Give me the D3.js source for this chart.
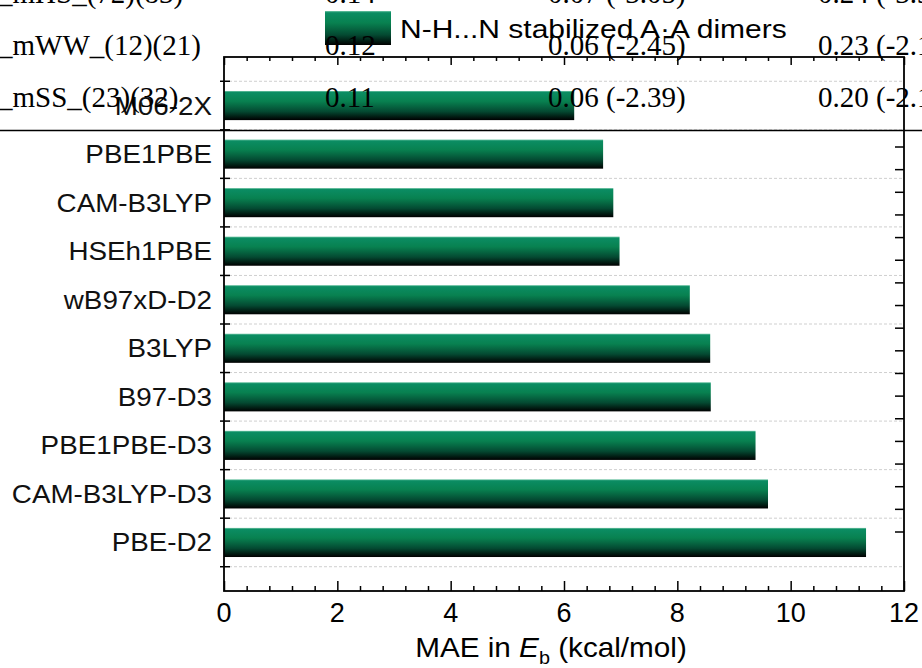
<!DOCTYPE html>
<html>
<head>
<meta charset="utf-8">
<script src="https://cdn.jsdelivr.net/npm/d3@7"></script>
<style>
  html, body { margin: 0; padding: 0; background: #fff; overflow: hidden; }
  svg { display: block; }
</style>
</head>
<body>
<svg id="chart"></svg>
<script>
const methods = ["M06-2X", "PBE1PBE", "CAM-B3LYP", "HSEh1PBE", "wB97xD-D2",
                 "B3LYP", "B97-D3", "PBE1PBE-D3", "CAM-B3LYP-D3", "PBE-D2"];
const mae = [6.18, 6.69, 6.87, 6.98, 8.22, 8.58, 8.59, 9.38, 9.60, 11.33];
const xTicks = [0, 2, 4, 6, 8, 10, 12];
const legendLabel = "N-H...N stabilized A\u00B7A dimers";

// table fragment that sits over the top of the figure
const tableNames = ["_mHS_(72)(83)", "_mWW_(12)(21)", "_mSS_(23)(32)"];
const tableCol1 = ["0.14", "0.12", "0.11"];
const tableCol2 = ["0.07 (-3.05)", "0.06 (-2.45)", "0.06 (-2.39)"];
const tableCol3 = ["0.24 (-3.3", "0.23 (-2.1", "0.20 (-2.1"];

const width = 922, height = 668;
const plotL = 224, plotR = 904, plotT = 57, plotB = 591;

const svg = d3.select("#chart")
  .attr("width", width)
  .attr("height", height);

const x = d3.scaleLinear().domain([0, 12]).range([plotL, plotR]);
const y = d3.scaleLinear().domain([0, methods.length + 1]).range([plotT, plotB]);
// right axis has its own spacing
const yRight = d3.scaleLinear().domain([0, 17]).range([147, 532]);

// gradient for the bars
const defs = svg.append("defs");
const grad = defs.append("linearGradient")
  .attr("id", "barGrad")
  .attr("x1", 0).attr("y1", 0).attr("x2", 0).attr("y2", 1);
[[0, "#74c7a8"], [0.05, "#0b8d63"], [0.35, "#088150"], [0.7, "#044a32"], [1, "#000000"]]
  .forEach(s => grad.append("stop").attr("offset", s[0]).attr("stop-color", s[1]));

// gridlines between categories
const bounds = d3.range(methods.length + 1).map(i => i + 0.5);
svg.append("g")
  .selectAll("line")
  .data(bounds)
  .enter().append("line")
    .attr("x1", plotL).attr("x2", plotR)
    .attr("y1", d => y(d)).attr("y2", d => y(d))
    .attr("stroke", "#cfcfcf")
    .attr("stroke-width", 1)
    .attr("stroke-dasharray", "3,2");

// bars
svg.append("g")
  .selectAll("rect")
  .data(methods)
  .enter().append("rect")
    .attr("x", x(0))
    .attr("y", (d, i) => y(i + 1 - 0.3))
    .attr("width", (d, i) => x(mae[i]) - x(0))
    .attr("height", y(0.6) - y(0))
    .attr("fill", "url(#barGrad)");

// x axis ticks, bottom and top (inward)
const xMinor = d3.range(0, 12.001, 0.4);
const isMajor = d => Math.abs(d / 2 - Math.round(d / 2)) < 1e-6;

const bottomAxis = svg.append("g").attr("transform", `translate(0,${plotB})`)
  .call(d3.axisTop(x).tickValues(xMinor).tickSize(5).tickFormat(""));
bottomAxis.selectAll(".tick line").filter(isMajor).attr("y2", -10);
bottomAxis.select(".domain").remove();

const topAxis = svg.append("g").attr("transform", `translate(0,${plotT})`)
  .call(d3.axisBottom(x).tickValues(xMinor).tickSize(4).tickFormat(""));
topAxis.selectAll(".tick line").filter(isMajor).attr("y2", 8);
topAxis.select(".domain").remove();

svg.selectAll(".tick line").attr("stroke", "#000").attr("stroke-width", 1.5);

// x tick labels
svg.append("g")
  .selectAll("text")
  .data(xTicks)
  .enter().append("text")
    .attr("x", d => x(d))
    .attr("y", plotB + 31)
    .attr("text-anchor", "middle")
    .style("font-family", "Arial, 'Liberation Sans', sans-serif")
    .style("font-size", "27px")
    .text(d => d);

// left ticks crossing the axis at category boundaries
svg.append("g")
  .selectAll("line")
  .data(bounds)
  .enter().append("line")
    .attr("x1", plotL - 4).attr("x2", plotL + 6)
    .attr("y1", d => y(d)).attr("y2", d => y(d))
    .attr("stroke", "#000").attr("stroke-width", 1.5);

// right ticks (inward)
svg.append("g")
  .selectAll("line")
  .data(yRight.ticks(17))
  .enter().append("line")
    .attr("x1", plotR - 9).attr("x2", plotR)
    .attr("y1", d => yRight(d)).attr("y2", d => yRight(d))
    .attr("stroke", "#000").attr("stroke-width", 1.5);

// frame
svg.append("rect")
  .attr("x", plotL).attr("y", plotT)
  .attr("width", plotR - plotL).attr("height", plotB - plotT)
  .attr("fill", "none")
  .attr("stroke", "#000")
  .attr("stroke-width", 1.8);

// category labels
svg.append("g")
  .selectAll("text")
  .data(methods)
  .enter().append("text")
    .attr("transform", (d, i) => `translate(${plotL - 12},${y(i + 1) + 9}) scale(1.09,1)`)
    .attr("text-anchor", "end")
    .style("font-family", "Arial, 'Liberation Sans', sans-serif")
    .style("font-size", "25.5px")
    .attr("fill", "#111")
    .text(d => d);

// axis title
const title = svg.append("text")
  .attr("transform", `translate(551,${height - 11}) scale(1.1,1)`)
  .attr("text-anchor", "middle")
  .style("font-family", "Arial, 'Liberation Sans', sans-serif")
  .style("font-size", "27px");
title.append("tspan").text("MAE in ");
title.append("tspan").style("font-style", "italic").text("E");
title.append("tspan").attr("dy", 7).style("font-size", "18px").text("b");
title.append("tspan").attr("dy", -7).text(" (kcal/mol)");

// legend
svg.append("rect")
  .attr("x", 325).attr("y", 11)
  .attr("width", 66).attr("height", 34)
  .attr("fill", "url(#barGrad)");
svg.append("text")
  .attr("transform", "translate(400,38) scale(1.2,1)")
  .style("font-family", "Arial, 'Liberation Sans', sans-serif")
  .style("font-size", "25px")
  .text(legendLabel);

// overlapping table fragment
const rowY = [3, 55, 107];
const tableFont = "'Times New Roman', 'Liberation Serif', serif";
const cols = [[-2, tableNames], [325, tableCol1], [548, tableCol2], [818, tableCol3]];
cols.forEach(([cx, vals]) => {
  svg.append("g")
    .selectAll("text")
    .data(vals)
    .enter().append("text")
      .attr("x", cx)
      .attr("y", (d, i) => rowY[i])
      .style("font-family", tableFont)
      .style("font-size", "29px")
      .text(d => d);
});
svg.append("line")
  .attr("x1", 0).attr("x2", width)
  .attr("y1", 130.5).attr("y2", 130.5)
  .attr("stroke", "#000").attr("stroke-width", 1.3);
</script>
</body>
</html>
